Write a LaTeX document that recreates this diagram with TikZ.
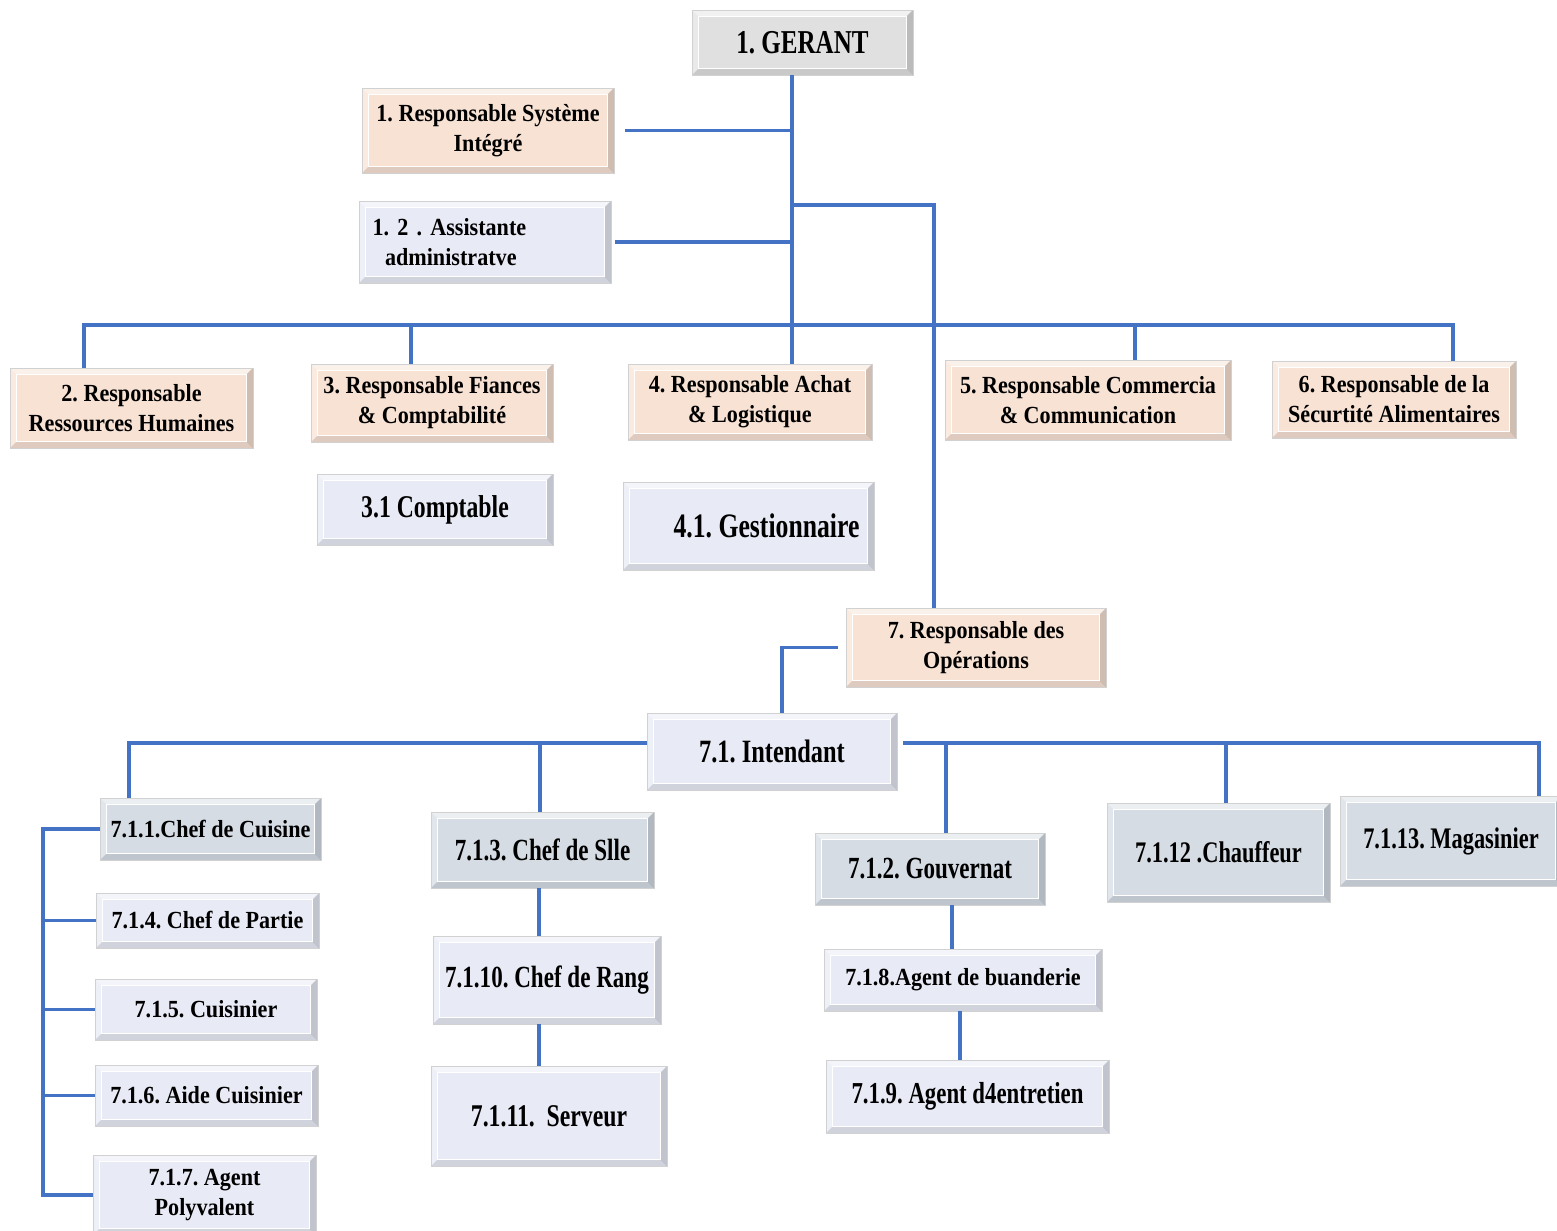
\documentclass[tikz,border=0pt]{standalone}
\usepackage{fontspec}
\setmainfont{Liberation Serif}[FakeStretch=0.9]
\newfontfamily\narrowfont{Liberation Serif}[FakeStretch=0.75]
\frenchspacing
\usepackage{xcolor}
\usepackage{tikz}
\usetikzlibrary{positioning,calc}
\definecolor{peach}{HTML}{F8E2D4}
\definecolor{lav}{HTML}{E8EAF5}
\definecolor{slate}{HTML}{D5DCE4}
\definecolor{ash}{HTML}{E0E0E0}
\definecolor{linkblue}{HTML}{4472C4}
\newcommand{\bw}{3.5pt}
\newcommand{\bbnw}{path picture bounding box.north west}
\newcommand{\bbne}{path picture bounding box.north east}
\newcommand{\bbsw}{path picture bounding box.south west}
\newcommand{\bbse}{path picture bounding box.south east}
\tikzset{
  bevel/.style  = {path picture={
      \fill[white,opacity=.55] (\bbnw) -- (\bbne) -- ([shift={(-\bw,-\bw)}]\bbne) -- ([shift={(\bw,-\bw)}]\bbnw) -- cycle;
      \fill[white,opacity=.3] (\bbnw) -- ([shift={(\bw,-\bw)}]\bbnw) -- ([shift={(\bw,\bw)}]\bbsw) -- (\bbsw) -- cycle;
      \fill[black,opacity=.16] (\bbne) -- (\bbse) -- ([shift={(-\bw,\bw)}]\bbse) -- ([shift={(-\bw,-\bw)}]\bbne) -- cycle;
      \fill[black,opacity=.10] (\bbsw) -- (\bbse) -- ([shift={(-\bw,\bw)}]\bbse) -- ([shift={(\bw,\bw)}]\bbsw) -- cycle;
      \draw[white,line width=.5pt] ([shift={(\bw,-\bw)}]\bbnw) rectangle ([shift={(-\bw,\bw)}]\bbse);}},
  boxbase/.style = {rectangle, draw=black!18, line width=.4pt, align=center, inner sep=2pt, bevel},
  chief/.style   = {boxbase, fill=ash, font=\narrowfont\fontsize{19}{22}\selectfont\bfseries},
  resp/.style    = {boxbase, fill=peach, font=\fontsize{14}{17}\selectfont\bfseries},
  staff/.style   = {boxbase, fill=lav, font=\fontsize{14}{17}\selectfont\bfseries},
  head/.style    = {boxbase, fill=slate, font=\fontsize{14}{17}\selectfont\bfseries},
  nstaff/.style  = {boxbase, fill=lav, font=\narrowfont\fontsize{#1}{21}\selectfont\bfseries},
  nstaff/.default = 17.5,
  nhead/.style   = {boxbase, fill=slate, font=\narrowfont\fontsize{#1}{21}\selectfont\bfseries},
  nhead/.default = 17.5,
  link/.style    = {draw=linkblue, line width=1.8pt},
  buslink/.style = {link, line width=2.8pt},
}
\begin{document}
\begin{tikzpicture}[x=0.02cm, y=-0.02cm]
  \useasboundingbox (0,0) rectangle (1557,1230);
  % direction
  \node[chief, minimum width=4.42cm, minimum height=1.30cm] (gerant) at (802.5,42.5) {1. GERANT};
  \node[resp, minimum width=5.04cm, minimum height=1.70cm] (rsi) at (488,130.5) {1. Responsable Système\\Intégré};
  \node[staff, minimum width=5.04cm, minimum height=1.64cm, text width=4.5cm, align=left] (asst) at (485,242)
    {1. 2 . Assistante\\\hspace*{0.25cm}administratve};
  % responsables
  \node[resp, minimum width=4.86cm, minimum height=1.60cm] (rrh) at (131.5,408) {2. Responsable\\Ressources Humaines};
  \node[resp, minimum width=4.84cm, minimum height=1.56cm] (rfc) at (432,403) {3. Responsable Fiances\\\& Comptabilité};
  \node[resp, minimum width=4.88cm, minimum height=1.52cm] (ral) at (750,402) {4. Responsable Achat\\\& Logistique};
  \node[resp, minimum width=5.72cm, minimum height=1.60cm] (rcc) at (1088,400) {5. Responsable Commercia\\\& Communication};
  \node[resp, minimum width=4.88cm, minimum height=1.54cm] (rsa) at (1394,399.5) {6. Responsable de la\\Sécurtité Alimentaires};
  \node[nstaff=18, minimum width=4.72cm, minimum height=1.42cm] (compt) at (435,509.5) {3.1 Comptable};
  \node[nstaff=19.5, minimum width=5.02cm, minimum height=1.76cm] (gest) at (748.5,526) {\hspace*{0.72cm}4.1. Gestionnaire};
  \node[resp, minimum width=5.20cm, minimum height=1.58cm] (rop) at (976,647.5) {7. Responsable des\\Opérations};
  \node[nstaff=18.5, minimum width=5.00cm, minimum height=1.54cm] (intend) at (772,751.5) {7.1. Intendant};
  % cuisine
  \node[head, minimum width=4.42cm, minimum height=1.24cm] (cuis) at (210.5,829) {7.1.1.Chef de Cuisine};
  \node[staff, minimum width=4.46cm, minimum height=1.10cm] (partie) at (207.5,920.5) {7.1.4. Chef de Partie};
  \node[staff, minimum width=4.44cm, minimum height=1.22cm] (cuisinier) at (206,1009.5) {7.1.5. Cuisinier};
  \node[staff, minimum width=4.46cm, minimum height=1.22cm] (aide) at (206.5,1095.5) {7.1.6. Aide Cuisinier};
  \node[staff, minimum width=4.46cm, minimum height=1.60cm] (polyv) at (204.5,1195) {7.1.7. Agent\\Polyvalent};
  % salle
  \node[nhead, minimum width=4.46cm, minimum height=1.52cm] (salle) at (542.5,850) {7.1.3. Chef de Slle};
  \node[nstaff, minimum width=4.56cm, minimum height=1.76cm] (rang) at (547,980) {7.1.10. Chef de Rang};
  \node[nstaff=18, minimum width=4.72cm, minimum height=2.00cm] (serveur) at (549,1116) {7.1.11.\ \ Serveur};
  % hebergement
  \node[nhead, minimum width=4.60cm, minimum height=1.44cm] (gouv) at (930,869) {7.1.2. Gouvernat};
  \node[staff, minimum width=5.56cm, minimum height=1.24cm] (buand) at (963,980) {7.1.8.Agent de buanderie};
  \node[nstaff=17.3, minimum width=5.66cm, minimum height=1.46cm] (entret) at (967.5,1096.5) {7.1.9. Agent d4entretien};
  \node[nhead=17, minimum width=4.46cm, minimum height=1.98cm] (chauff) at (1218.5,852.5) {7.1.12 .Chauffeur};
  \node[nhead=17, minimum width=4.44cm, minimum height=1.80cm] (magas) at (1451,841) {7.1.13. Magasinier};

  \coordinate (sp) at (792,205);  \coordinate (b7) at (934,205);
  \coordinate (bA) at (84,325);   \coordinate (bB) at (411,325);
  \coordinate (bC) at (1135,325); \coordinate (bD) at (1453,325);
  \coordinate (b71) at (782,651);
  \coordinate (cL) at (129,743);  \coordinate (cS) at (540,743);
  \coordinate (cG) at (946,743);  \coordinate (cC) at (1226,743);
  \coordinate (cM) at (1539,743); \coordinate (kx) at (43,0);
  \coordinate (rx) at (539,0);    \coordinate (gx) at (952,0);
  \coordinate (ex) at (960,0);

  \draw[link] (sp |- gerant.south) -- (sp |- ral.north);
  \draw[link, shorten <=0.22cm] (rsi.east) -- (rsi.east -| sp);
  \draw[link, shorten <=0.08cm] (asst.east) -- (asst.east -| sp);
  \draw[link] (sp) -- (b7) -- (b7 |- rop.north);
  \draw[link] (bA |- rrh.north) -- (bA) -- (bD) -- (bD |- rsa.north);
  \draw[link] (bB) -- (bB |- rfc.north);
  \draw[link] (bC) -- (bC |- rcc.north);
  \draw[link, shorten <=0.16cm] (rop.west) -| (b71 |- intend.north);
  \draw[buslink] (intend.west |- cL) -- (cL) -- (cL |- cuis.north);
  \draw[link] (cS) -- (cS |- salle.north);
  \draw[link, shorten <=0.12cm] (intend.east |- cM) -- (cM) -- (cM |- magas.north);
  \draw[link] (cG) -- (cG |- gouv.north);
  \draw[link] (cC) -- (cC |- chauff.north);
  \draw[link] (cuis.west) -- (cuis.west -| kx) -- (polyv.west -| kx) -- (polyv.west);
  \draw[link] (partie.west -| kx) -- (partie.west) (cuisinier.west -| kx) -- (cuisinier.west)
    (aide.west -| kx) -- (aide.west);
  \draw[link] (salle.south -| rx) -- (rang.north -| rx);
  \draw[link] (rang.south -| rx) -- (serveur.north -| rx);
  \draw[link] (gouv.south -| gx) -- (buand.north -| gx);
  \draw[link] (buand.south -| ex) -- (entret.north -| ex);
\end{tikzpicture}
\end{document}
